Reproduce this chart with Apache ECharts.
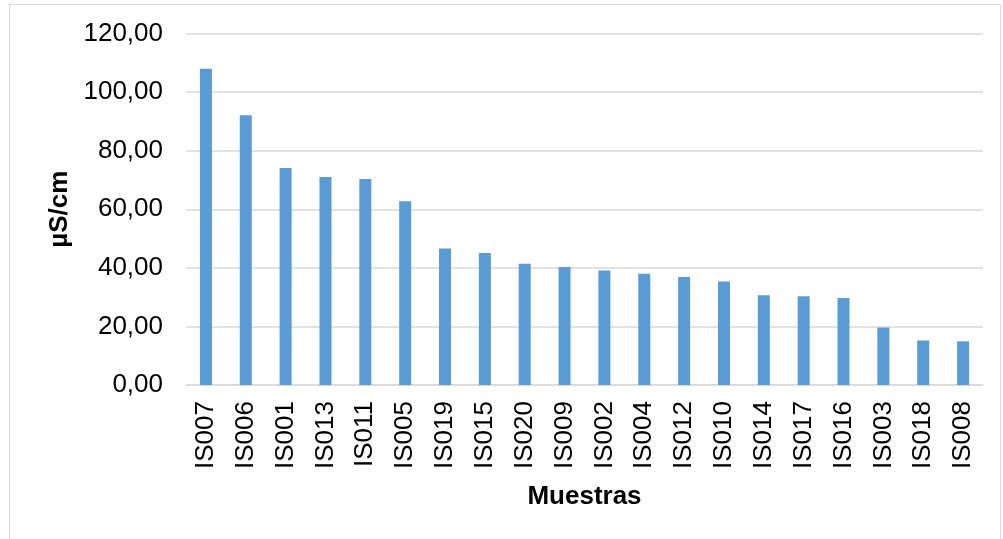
<!DOCTYPE html>
<html>
<head>
<meta charset="utf-8">
<script src="https://cdn.jsdelivr.net/npm/echarts@6/dist/echarts.min.js"></script>
<style>
  html, body { margin: 0; padding: 0; background: #ffffff; }
  #frame { position: absolute; left: 9px; top: 4px; width: 992px; height: 540px;
           border: 1.5px solid #d9d9d9; box-sizing: border-box; }
  #chart { position: absolute; left: 0; top: 0; width: 1003px; height: 539px; }
</style>
</head>
<body>
<div id="frame"></div>
<div id="chart"></div>
<script>
// Conductividad por muestra (µS/cm), ordenada de mayor a menor
const muestras = ['IS007', 'IS006', 'IS001', 'IS013', 'IS011', 'IS005', 'IS019', 'IS015', 'IS020', 'IS009',
                  'IS002', 'IS004', 'IS012', 'IS010', 'IS014', 'IS017', 'IS016', 'IS003', 'IS018', 'IS008'];
const conductividad = [108.0, 92.1, 74.1, 71.0, 70.3, 62.7, 46.6, 45.1, 41.4, 40.3,
                       39.1, 38.0, 36.9, 35.3, 30.6, 30.3, 29.7, 19.6, 15.2, 14.9];
const yMin = 0, yMax = 120, yStep = 20;

const font = 'Liberation Sans, Arial, sans-serif';
const chart = echarts.init(document.getElementById('chart'), null, { renderer: 'canvas' });

chart.setOption({
  backgroundColor: 'transparent',
  animation: false,
  grid: { left: 186, right: 20, top: 33.5, bottom: 154, containLabel: false },
  xAxis: {
    type: 'category',
    data: muestras,
    name: 'Muestras',
    nameLocation: 'middle',
    nameGap: 99,
    nameTextStyle: { fontFamily: font, fontSize: 26, fontWeight: 'bold', color: '#000000', verticalAlign: 'top' },
    axisLine: { show: true, lineStyle: { color: '#d9d9d9', width: 1.5 } },
    axisTick: { show: false },
    axisLabel: { rotate: 90, margin: 16, fontFamily: font, fontSize: 26, color: '#000000', interval: 0 }
  },
  yAxis: {
    type: 'value',
    min: yMin, max: yMax, interval: yStep,
    name: 'µS/cm',
    nameLocation: 'middle',
    nameGap: 106,
    nameTextStyle: { fontFamily: font, fontSize: 26, fontWeight: 'bold', color: '#000000' },
    axisLine: { show: false },
    axisTick: { show: false },
    splitLine: { lineStyle: { color: '#d9d9d9', width: 1.5 } },
    axisLabel: {
      margin: 23, fontFamily: font, fontSize: 26, color: '#000000',
      formatter: v => v.toFixed(2).replace('.', ',')
    }
  },
  series: [{
    type: 'bar',
    data: conductividad,
    barWidth: 12,
    itemStyle: { color: '#5b9bd5' }
  }]
});
</script>
</body>
</html>
